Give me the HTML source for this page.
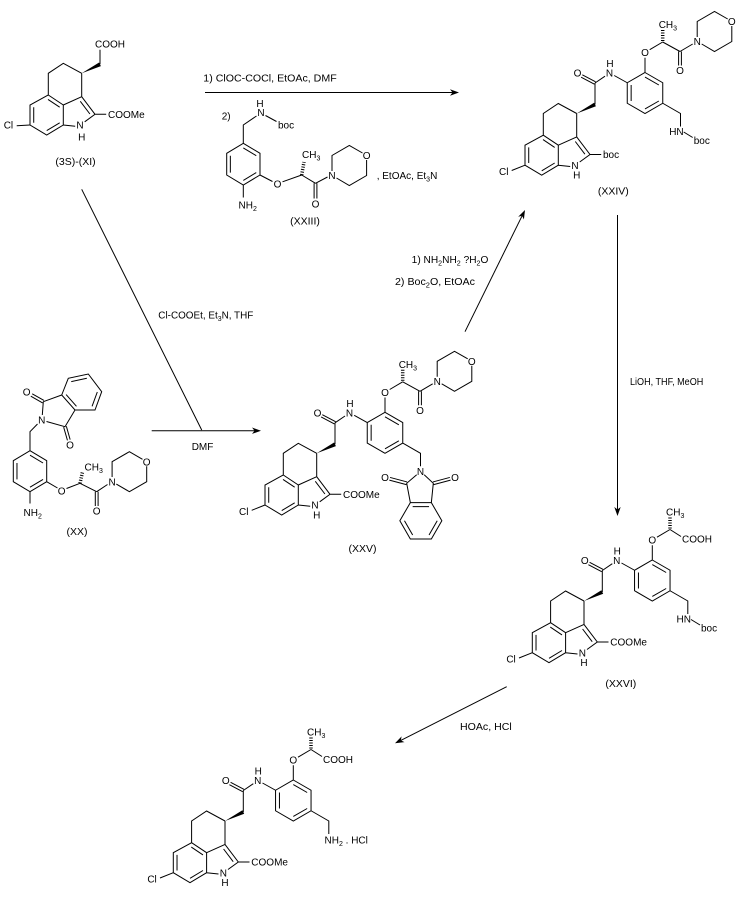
<!DOCTYPE html>
<html><head><meta charset="utf-8"><style>
html,body{margin:0;padding:0;background:#fff;}
svg{display:block;}
text{font-family:"Liberation Sans",Arial,sans-serif;font-size:10px;fill:#000;}
.lb{font-size:10.5px;}
</style></head><body>
<svg xmlns="http://www.w3.org/2000/svg" xmlns:xlink="http://www.w3.org/1999/xlink" width="741" height="902" viewBox="0 0 741 902">
<defs>
<g id="core">
<path fill="none" stroke="#000" stroke-width="1" d="M0,0 L-18.4,-10 L-33.4,0 L-33.4,21.7 L-51.7,31.7 L-51.7,51.7 L-35,61.7 L-18.4,51.7 L-18.4,31.7 L-33.4,21.7 M-18.4,31.7 L0,23.4 L0,0 M0,23.4 L13.3,41 L3,48.5 M-18.4,51.7 L-6.5,53 M13.3,41 L24.5,41 M-47.98,33.9 L-47.98,49.5 M-34.96,57.3 L-22.01,49.5 M-33.71,26.1 L-22.01,33.9 M-1.4,28 L8.2,40.7"/>
<polygon points="0,0 19.2,-7.2 17.4,-10.8" fill="#000"/>
</g>
<g id="amide">
<path fill="none" stroke="#000" stroke-width="1" d="M18.3,-9 L18.3,-30.5 M18.9,-31.65 L5.6,-38.65 M17.7,-29.35 L4.4,-36.35 M18.3,-30.5 L28.3,-37.3 M37.5,-38 L50.55,-30.75 M68.3,-41 L86.05,-30.75 L86.05,-10.25 L68.3,0 L50.55,-10.25 L50.55,-30.75 Z M54.45,-28.5 L54.45,-12.5 M68.3,-36.49 L82.15,-28.5 M68.3,-4.51 L82.15,-12.5 M68.3,-41 L68.3,-55.8 M73,-63.8 L86,-71.5 M86.05,-10.25 L103.8,0 L103.8,13"/>
<line x1="86" y1="-72.5" x2="86" y2="-83.5" stroke="#000" stroke-width="3.5" stroke-dasharray="1 1.5"/>
</g>
<g id="mcarb">
<path fill="none" stroke="#000" stroke-width="1" d="M86,-71.5 L103.3,-62 M101.9,-62 L101.9,-48 M104.7,-62 L104.7,-48 M103.3,-62 L116,-69.5 M120.5,-76.5 L120.5,-92 L137.8,-102 L151,-94.5 M155.1,-87.5 L155.1,-72 L137.8,-62 L125,-69.5"/>
</g>
</defs>

<!-- (3S)-(XI) -->
<g transform="translate(81.7,73.3)">
<use href="#core" xlink:href="#core"/>
<path fill="none" stroke="#000" d="M18.3,-9 L18.3,-23.5 M-51.7,51.7 L-65,52.5"/>
<text x="13.3" y="-25.8">COOH</text>
<text x="-78" y="55.3">Cl</text>
<text x="-1.7" y="55.3" text-anchor="middle">N</text>
<text x="0" y="67" text-anchor="middle">H</text>
<text x="26.3" y="44.6">COOMe</text>
</g>
<text class="lb" x="75.5" y="165" text-anchor="middle">(3S)-(XI)</text>

<!-- top arrow -->
<path fill="none" stroke="#000" d="M205,92.5 H453"/>
<polygon points="459,92.5 450,89.3 452.5,92.5 450,95.7" fill="#000"/>
<text x="203.3" y="81.5" textLength="133.4" lengthAdjust="spacingAndGlyphs">1) ClOC-COCl, EtOAc, DMF</text>
<text x="221.7" y="119.5">2)</text>

<!-- XXIII -->
<path fill="none" stroke="#000" d="M256.5,116 L243.3,125 L243.3,143.3 M265.5,115.5 L276.5,121.5 M243.3,143.3 L260,153.3 L260,175 L243.3,185 L226.7,175 L226.7,153.3 Z M230.35,155.7 L230.35,172.6 M243.3,147.9 L256.25,155.7 M243.3,180.4 L256.25,172.6 M243.3,185 L243.3,197.5 M260,175 L272.5,181.5 M282.5,181.8 L301.7,175 M301.7,175 L315.5,183.3 M314.1,183.3 L314.1,198.5 M316.9,183.3 L316.9,198.5 M315.5,183.3 L327.5,177 M332,171 L332,155.5 L349.3,145.5 L362.5,153 M366.6,160 L366.6,175.5 L349.3,185.5 L336.5,178"/>
<line x1="301.7" y1="175" x2="304" y2="162" stroke="#000" stroke-width="3.5" stroke-dasharray="1 1.5"/>
<text x="260" y="107" text-anchor="middle">H</text>
<text x="261" y="116" text-anchor="middle">N</text>
<text x="278" y="128.5">boc</text>
<text x="238.5" y="208.5">NH<tspan font-size="7" dy="2.5">2</tspan></text>
<text x="277.5" y="187.6" text-anchor="middle">O</text>
<text x="302" y="158">CH<tspan font-size="7" dy="2.5">3</tspan></text>
<text x="315.5" y="207.6" text-anchor="middle">O</text>
<text x="332" y="179.1" text-anchor="middle">N</text>
<text x="366.6" y="159.1" text-anchor="middle">O</text>
<text x="376.7" y="179">, EtOAc, Et<tspan font-size="7" dy="2.5">3</tspan><tspan dy="-2.5">N</tspan></text>
<text class="lb" x="305" y="224.5" text-anchor="middle">(XXIII)</text>

<!-- XXIV -->
<g transform="translate(576.7,113.5)">
<use href="#core" xlink:href="#core"/>
<use href="#amide" xlink:href="#amide"/>
<use href="#mcarb" xlink:href="#mcarb"/>
<path fill="none" stroke="#000" d="M-51.7,51.7 L-65,57 M107,18.5 L116,24"/>
<text x="-77.7" y="61.6">Cl</text>
<text x="-1.7" y="55.3" text-anchor="middle">N</text>
<text x="0" y="65" text-anchor="middle">H</text>
<text x="26.3" y="44.6">boc</text>
<text x="0.8" y="-36.9" text-anchor="middle">O</text>
<text x="32.8" y="-36.9" text-anchor="middle">N</text>
<text x="33.3" y="-46.4" text-anchor="middle">H</text>
<text x="68.3" y="-57.4" text-anchor="middle">O</text>
<text x="82" y="-85.5">CH<tspan font-size="7" dy="2.5">3</tspan></text>
<text x="103.3" y="-39.4" text-anchor="middle">O</text>
<text x="120.5" y="-68.4" text-anchor="middle">N</text>
<text x="155.1" y="-88.4" text-anchor="middle">O</text>
<text x="92.5" y="21.6">HN</text>
<text x="117" y="30.5">boc</text>
</g>
<text class="lb" x="613.3" y="194.5" text-anchor="middle">(XXIV)</text>

<!-- middle arrows -->
<path fill="none" stroke="#000" d="M81.7,189.3 L201.7,430 M151.7,430.7 H254.5"/>
<polygon points="261,430.7 252,427.5 254.5,430.7 252,433.9" fill="#000"/>
<text x="158.3" y="318.5" textLength="95" lengthAdjust="spacingAndGlyphs">Cl-COOEt, Et<tspan font-size="7" dy="2.5">3</tspan><tspan dy="-2.5">N, THF</tspan></text>
<text x="191.7" y="450">DMF</text>

<path fill="none" stroke="#000" d="M465,331.7 L522.1,215.8"/>
<polygon points="525,210 523.9,219.5 522.1,215.8 518.2,216.7" fill="#000"/>
<text x="411.7" y="263" textLength="76.7" lengthAdjust="spacingAndGlyphs">1) NH<tspan font-size="7" dy="2.5">2</tspan><tspan dy="-2.5">NH</tspan><tspan font-size="7" dy="2.5">2</tspan><tspan dy="-2.5"> ?H</tspan><tspan font-size="7" dy="2.5">2</tspan><tspan dy="-2.5">O</tspan></text>
<text x="395" y="285" textLength="80" lengthAdjust="spacingAndGlyphs">2) Boc<tspan font-size="7" dy="2.5">2</tspan><tspan dy="-2.5">O, EtOAc</tspan></text>

<path fill="none" stroke="#000" d="M617.5,215 V509.5"/>
<polygon points="617.5,516 614.3,507 617.5,509.5 620.7,507" fill="#000"/>
<text x="630" y="385" font-size="9.5" textLength="73.3" lengthAdjust="spacingAndGlyphs">LiOH, THF, MeOH</text>

<!-- XX -->
<path fill="none" stroke="#000" d="M43.3,401.7 L61.7,395 M43.99,400.48 L32.19,393.78 M42.61,402.92 L30.81,396.22 M43.3,401.7 L42.3,415 M46.5,421.5 L65,426.7 L75,410 M66.35,426.3 L70.15,439.6 M63.65,427.1 L67.45,440.4 M61.7,395 L68.3,378.3 L88.3,374 L101.7,391.7 L95,410 L75,410 Z M71.25,381.6 L86.85,378.2 M97.3,392 L92.07,406.3 M76.47,406.3 L66.1,394.6 M37.5,424 L30,431.7 L30,450.7 M30,450.7 L46.7,460.7 L46.7,481.7 L30,491.7 L13.3,481.7 L13.3,460.7 Z M16.97,463 L16.97,479.4 M30,455.2 L43.03,463 M30,487.2 L43.03,479.4 M30,491.7 L30,503.5 M46.7,481.7 L57.5,488 M66.5,488.5 L80,483.3 M80,483.3 L96.7,491.7 M95.3,491.7 L95.3,506 M98.1,491.7 L98.1,506 M96.7,491.7 L107.5,484.5 M112.1,477 L112.1,461.7 L129.4,451.7 L142.5,459.3 M146.7,466.3 L146.7,481.7 L129.4,491.7 L116.3,484.1"/>
<line x1="80" y1="483.3" x2="82.5" y2="472" stroke="#000" stroke-width="3.5" stroke-dasharray="1 1.5"/>
<text x="26.7" y="395.3" text-anchor="middle">O</text>
<text x="41.7" y="423.6" text-anchor="middle">N</text>
<text x="70" y="448.6" text-anchor="middle">O</text>
<text x="23.5" y="516">NH<tspan font-size="7" dy="2.5">2</tspan></text>
<text x="61.7" y="494.6" text-anchor="middle">O</text>
<text x="84.5" y="470.5">CH<tspan font-size="7" dy="2.5">3</tspan></text>
<text x="96.7" y="514.6" text-anchor="middle">O</text>
<text x="112.1" y="485.3" text-anchor="middle">N</text>
<text x="146.7" y="465.3" text-anchor="middle">O</text>
<text class="lb" x="77" y="535" text-anchor="middle">(XX)</text>

<!-- XXV -->
<g transform="translate(316.7,453.3)">
<use href="#core" xlink:href="#core"/>
<use href="#amide" xlink:href="#amide"/>
<use href="#mcarb" xlink:href="#mcarb"/>
<path fill="none" stroke="#000" d="M-51.7,51.7 L-65,57 M100,21.5 L90,30 L93.65,49.3 M107.5,21.5 L116.6,30 L114.65,49.3 M93.65,49.3 L114.65,49.3 L125.15,67.5 L114.65,85.7 L93.65,85.7 L83.15,67.5 Z M90.36,28.65 L73.36,24.15 M89.64,31.35 L72.64,26.85 M116.96,31.35 L133.86,26.85 M116.24,28.65 L133.14,24.15 M95.96,53.3 L112.34,53.3 M120.53,67.5 L112.34,81.7 M95.96,81.7 L87.77,67.5"/>
<text x="-77.7" y="61.6">Cl</text>
<text x="-1.7" y="55.3" text-anchor="middle">N</text>
<text x="0" y="65" text-anchor="middle">H</text>
<text x="26.3" y="44.6">COOMe</text>
<text x="0.8" y="-36.9" text-anchor="middle">O</text>
<text x="32.8" y="-36.9" text-anchor="middle">N</text>
<text x="33.3" y="-46.4" text-anchor="middle">H</text>
<text x="68.3" y="-57.4" text-anchor="middle">O</text>
<text x="82" y="-85.5">CH<tspan font-size="7" dy="2.5">3</tspan></text>
<text x="103.3" y="-39.4" text-anchor="middle">O</text>
<text x="120.5" y="-68.4" text-anchor="middle">N</text>
<text x="155.1" y="-88.4" text-anchor="middle">O</text>
<text x="103.8" y="21.6" text-anchor="middle">N</text>
<text x="68.3" y="27.8" text-anchor="middle">O</text>
<text x="138.3" y="27.8" text-anchor="middle">O</text>
</g>
<text class="lb" x="362.5" y="552" text-anchor="middle">(XXV)</text>

<!-- XXVI -->
<g transform="translate(584,601)">
<use href="#core" xlink:href="#core"/>
<use href="#amide" xlink:href="#amide"/>
<path fill="none" stroke="#000" d="M-51.7,51.7 L-65,57 M107,18.5 L116,24 M86,-71.5 L97,-64.5"/>
<text x="-77.7" y="61.6">Cl</text>
<text x="-1.7" y="55.3" text-anchor="middle">N</text>
<text x="0" y="65" text-anchor="middle">H</text>
<text x="26.3" y="44.6">COOMe</text>
<text x="0.8" y="-36.9" text-anchor="middle">O</text>
<text x="32.8" y="-36.9" text-anchor="middle">N</text>
<text x="33.3" y="-46.4" text-anchor="middle">H</text>
<text x="68.3" y="-57.4" text-anchor="middle">O</text>
<text x="82" y="-85.5">CH<tspan font-size="7" dy="2.5">3</tspan></text>
<text x="98" y="-58.5">COOH</text>
<text x="92.5" y="21.6">HN</text>
<text x="117" y="30.5">boc</text>
</g>
<text class="lb" x="620.8" y="687" text-anchor="middle">(XXVI)</text>

<!-- bottom arrow -->
<path fill="none" stroke="#000" d="M506.7,686.7 L400.8,740.4"/>
<polygon points="395,743.3 404.5,742.1 400.8,740.4 401.6,736.4" fill="#000"/>
<text x="460" y="730" textLength="51.7" lengthAdjust="spacingAndGlyphs">HOAc, HCl</text>

<!-- Product -->
<g transform="translate(225,821)">
<use href="#core" xlink:href="#core"/>
<use href="#amide" xlink:href="#amide"/>
<path fill="none" stroke="#000" d="M-51.7,51.7 L-65,57 M86,-71.5 L97,-64.5"/>
<text x="-77.7" y="61.6">Cl</text>
<text x="-1.7" y="55.3" text-anchor="middle">N</text>
<text x="0" y="65" text-anchor="middle">H</text>
<text x="26.3" y="44.6">COOMe</text>
<text x="0.8" y="-36.9" text-anchor="middle">O</text>
<text x="32.8" y="-36.9" text-anchor="middle">N</text>
<text x="33.3" y="-46.4" text-anchor="middle">H</text>
<text x="68.3" y="-57.4" text-anchor="middle">O</text>
<text x="82" y="-85.5">CH<tspan font-size="7" dy="2.5">3</tspan></text>
<text x="98" y="-58">COOH</text>
<text x="99.5" y="22.5">NH<tspan font-size="7" dy="2.5">2</tspan><tspan dy="-2.5"> . HCl</tspan></text>
</g>
</svg>
</body></html>
